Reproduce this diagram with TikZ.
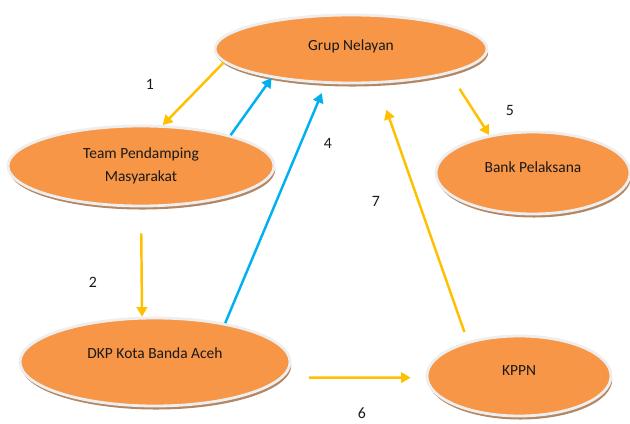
\documentclass[tikz,border=0pt]{standalone}
\usepackage{fontspec}
\setmainfont{Carlito}
\usetikzlibrary{shapes.geometric, arrows.meta, shadows}

\definecolor{blobfill}{RGB}{247,150,70}
\definecolor{blobrim}{RGB}{238,238,238}
\definecolor{blobshade}{RGB}{180,135,100}
\definecolor{flowyellow}{RGB}{255,192,0}
\definecolor{flowblue}{RGB}{0,176,240}

\begin{document}
\begin{tikzpicture}[
    blob/.style={ellipse, draw=blobrim, line width=1.6pt, fill=blobfill, inner sep=0pt,
        drop shadow={shadow xshift=0.7pt, shadow yshift=-2pt, fill=blobshade, opacity=1},
        font=\fontsize{8.8}{10.5}\selectfont, text=black!90},
    lift/.style={text height=6pt, text depth=#1},
    yarrow/.style={-{Triangle[length=5.5pt, width=6pt]}, line width=1.4pt, draw=flowyellow},
    barrow/.style={-{Triangle[length=5.5pt, width=6pt]}, line width=1.4pt, draw=flowblue},
    numlabel/.style={font=\fontsize{9}{11}\selectfont, text=black!90}
]
    \useasboundingbox (0,0) rectangle (12.6,8.48);

    % the five parties
    \node (grup) [blob, lift=4.8pt, minimum width=5.44cm, minimum height=1.36cm] at (7.02,7.5) {Grup Nelayan};
    \node (team) [blob, align=center, minimum width=5.32cm, minimum height=1.6cm,
        font=\fontsize{8.8}{13}\selectfont] at (2.82,5.16) {Team Pendamping\\Masyarakat};
    \node (bank) [blob, lift=7pt, minimum width=3.88cm, minimum height=1.64cm] at (10.66,5.02) {Bank Pelaksana};
    \node (dkp) [blob, lift=9.5pt, minimum width=5.4cm, minimum height=1.76cm] at (3.1,1.24) {DKP Kota Banda Aceh};
    \node (kppn) [blob, lift=7pt, minimum width=3.68cm, minimum height=1.6cm] at (10.38,0.96) {KPPN};

    % flows
    \draw [yarrow] (grup.186) -- (team.62);
    \draw [barrow] (team.19) -- (grup.200);
    \draw [yarrow, shorten <=0.52cm] (team.south) -- (dkp.106);
    \draw [barrow, shorten >=0.2cm] (dkp.29) -- (grup.234);
    \draw [yarrow, shorten <=0.36cm] (grup.-14) -- (bank.139);
    \draw [yarrow, shorten <=0.52cm, shorten >=0.3cm] (dkp.-7) -- (kppn.181);
    \draw [yarrow, shorten <=0.2cm, shorten >=0.55cm] (kppn.146) -- (grup.-53);

    % step numbers
    \node (n1) [numlabel] at (3.0,6.8) {1};
    \node (n2) [numlabel] at (1.86,2.84) {2};
    \node (n4) [numlabel] at (6.56,5.62) {4};
    \node (n5) [numlabel] at (10.2,6.28) {5};
    \node (n6) [numlabel] at (7.24,0.22) {6};
    \node (n7) [numlabel] at (7.52,4.46) {7};
\end{tikzpicture}
\end{document}
